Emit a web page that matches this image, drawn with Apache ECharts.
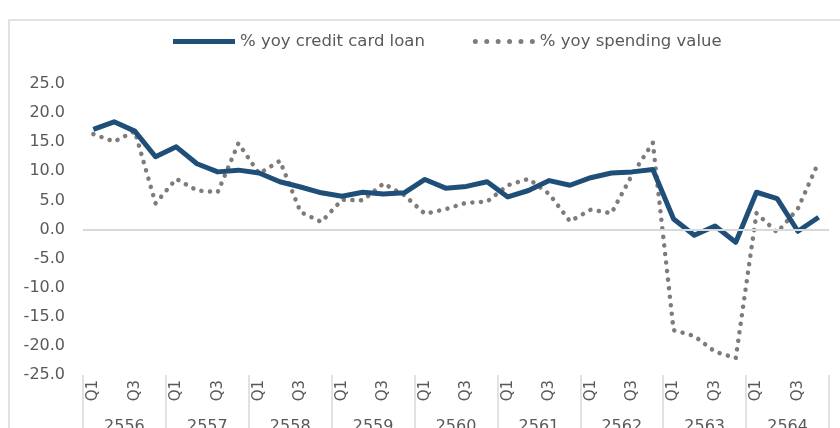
<!DOCTYPE html>
<html><head><meta charset="utf-8">
<script src="https://cdn.jsdelivr.net/npm/echarts@6/dist/echarts.min.js"></script>
<style>html,body{margin:0;padding:0;background:#fff}#c{width:840px;height:428px}</style>
</head><body><div id="c"></div>
<script>
var years = ['2556','2557','2558','2559','2560','2561','2562','2563','2564'];
var quarterNames = ['Q1','Q2','Q3','Q4'];
var yTicks = {min: -25, max: 25, interval: 5};
var creditCardLoan = [17.2,18.5,16.9,12.5,14.2,11.3,9.9,10.2, 9.7,8.2,7.3,6.3,5.7,6.4,6.1,6.3, 8.6,7.1,7.4,8.2,5.6,6.7,8.4,7.6, 8.9,9.7,9.9,10.3,1.8,-1.0,0.6,-2.2, 6.4,5.3,-0.3,2.1];
var spendingValue = [16.4,15.1,16.9,4.5,8.7,6.7,6.4,14.8, 9.6,11.8,3.0,1.3,5.1,5.0,7.9,5.9, 2.7,3.5,4.6,4.8,7.6,8.7,6.1,1.4, 3.4,2.8,9.4,14.9,-17.3,-18.3,-21.0,-22.1, 2.8,-0.5,3.6,11.6];

var quarters = [];
years.forEach(function(y){ quarterNames.forEach(function(q){ quarters.push(q); }); });

var FONT = 'DejaVu Sans';
var NAVY = '#1f4e79', GREY = '#7f7b7b';
// legend icons
var solidIcon = 'path://M0,0L62,0L62,5L0,5Z';
var dots = [];
for (var k = 0; k < 6; k++) {
  var cx = 2.5 + k * 11.4;
  dots.push('M' + (cx - 2.5) + ',2.5A2.5,2.5 0 1,1 ' + (cx + 2.5) + ',2.5A2.5,2.5 0 1,1 ' + (cx - 2.5) + ',2.5Z');
}
var dotIcon = 'path://' + dots.join(' ');

var chart = echarts.init(document.getElementById('c'), null, {renderer:'canvas'});
chart.setOption({
  animation: false,
  textStyle: {fontFamily: FONT},
  graphic: [{type:'rect', shape:{x:9, y:20, width:900, height:500}, style:{fill:'none', stroke:'#d9d9d9', lineWidth:1.5}, silent:true, z:-1}],
  legend: {
    data: [
      {name: '% yoy credit card loan', icon: solidIcon, itemStyle: {color: NAVY}},
      {name: '% yoy spending value', icon: dotIcon, itemStyle: {color: GREY}}
    ],
    left: 168, top: 28, itemWidth: 62, itemHeight: 5, itemGap: 48,
    textStyle: {fontFamily: FONT, fontSize: 16.5, color: '#595959'}
  },
  grid: {left: 83, right: 11, top: 84, bottom: 53, containLabel: false, outerBoundsMode: 'none'},
  xAxis: [{
    type: 'category', data: quarters, position: 'bottom', boundaryGap: true,
    axisLine: {show: false, onZero: false}, axisTick: {show: false},
    axisLabel: {interval: 1, rotate: 90, margin: 5, fontFamily: FONT, fontSize: 15, color: '#595959'}
  }, {
    type: 'category', data: years, position: 'bottom', boundaryGap: true,
    axisLine: {show: false, onZero: false},
    axisTick: {show: true, length: 60, lineStyle: {color: '#d9d9d9', width: 1.5}},
    axisLabel: {margin: 44, fontFamily: FONT, fontSize: 16, color: '#595959'}
  }],
  yAxis: {
    type: 'value', min: yTicks.min, max: yTicks.max, interval: yTicks.interval,
    axisLine: {show: false}, axisTick: {show: false}, splitLine: {show: false},
    axisLabel: {margin: 18, fontFamily: FONT, fontSize: 16, color: '#595959',
      formatter: function(v){ return v.toFixed(1); }}
  },
  series: [{
    name: 'zero', type: 'line', data: [], z: 0, silent: true,
    markLine: {silent: true, symbol: 'none', label: {show: false},
      lineStyle: {color: '#d9d9d9', width: 2, type: 'solid'}, data: [{yAxis: 0}]}
  }, {
    name: '% yoy spending value', type: 'line', data: spendingValue, symbol: 'none', z: 2,
    lineStyle: {color: GREY, width: 4.5, type: [0.1, 8.5], cap: 'round', join: 'round'},
    itemStyle: {color: GREY}
  }, {
    name: '% yoy credit card loan', type: 'line', data: creditCardLoan, symbol: 'none', z: 3,
    lineStyle: {color: NAVY, width: 5, join: 'round'},
    itemStyle: {color: NAVY}
  }]
});
</script></body></html>
